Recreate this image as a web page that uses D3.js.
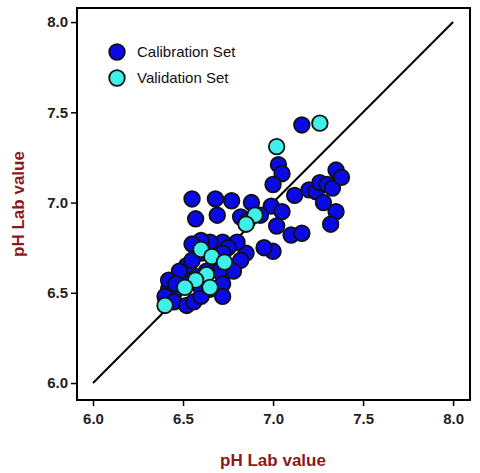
<!DOCTYPE html><html><head><script src="https://cdn.jsdelivr.net/npm/d3@7"></script>
<style>body{margin:0;background:#fff}</style></head><body><svg id="c" width="480" height="473"></svg>
<script>
const calX=[7.16,7.03,7.05,7.0,6.99,6.88,6.77,6.55,6.68,6.69,6.57,6.82,6.86,6.93,7.05,7.02,7.1,7.16,7.12,7.2,7.24,7.26,7.3,7.33,7.35,7.38,7.28,7.35,7.32,7.0,6.95,6.85,6.82,6.78,6.8,6.72,6.75,6.65,6.6,6.55,6.6,6.68,6.72,6.7,6.72,6.72,6.65,6.6,6.55,6.5,6.52,6.55,6.5,6.45,6.42,6.4,6.45,6.52,6.56,6.6,6.62,6.48,6.63,6.58,6.42,6.46];
const calY=[7.43,7.21,7.16,7.1,6.98,7.0,7.01,7.02,7.02,6.93,6.91,6.92,6.9,6.93,6.95,6.87,6.82,6.83,7.04,7.07,7.06,7.11,7.1,7.08,7.18,7.14,7.0,6.95,6.88,6.73,6.75,6.72,6.68,6.62,6.78,6.78,6.75,6.78,6.79,6.77,6.72,6.7,6.72,6.62,6.55,6.48,6.52,6.55,6.6,6.58,6.65,6.68,6.55,6.5,6.52,6.48,6.45,6.43,6.45,6.48,6.55,6.62,6.62,6.55,6.57,6.55];
const valX=[7.26,7.02,6.9,6.85,6.6,6.66,6.73,6.63,6.65,6.57,6.51,6.4];
const valY=[7.44,7.31,6.93,6.88,6.74,6.70,6.67,6.6,6.53,6.57,6.53,6.43];
const ticks=[6.0,6.5,7.0,7.5,8.0];
const svg=d3.select("#c");
const x=d3.scaleLinear().domain([5.911,8.094]).range([77,470]);
const y=d3.scaleLinear().domain([5.906,8.078]).range([400,8]);
svg.append("rect").attr("x",77).attr("y",8).attr("width",393).attr("height",392).attr("fill","none").attr("stroke","#000").attr("stroke-width",2);
const xa=svg.append("g").attr("transform","translate(0,400)").call(d3.axisBottom(x).tickValues(ticks).tickFormat(d3.format(".1f")).tickSize(6));
const ya=svg.append("g").attr("transform","translate(77,0)").call(d3.axisLeft(y).tickValues(ticks).tickFormat(d3.format(".1f")).tickSize(6));
[xa,ya].forEach(a=>{a.select(".domain").remove();a.selectAll("line").attr("stroke-width",1.5);a.selectAll("text").attr("font-family","Arial, Liberation Sans").attr("font-weight","bold").attr("font-size",15).attr("fill","#222");});
xa.selectAll("text").attr("dy","1.0em");
svg.append("line").attr("x1",x(6)).attr("y1",y(6)).attr("x2",x(8)).attr("y2",y(8)).attr("stroke","#000").attr("stroke-width",2);
function pts(X,Y,c){svg.append("g").selectAll("circle").data(X).join("circle").attr("cx",d=>x(d)).attr("cy",(d,i)=>y(Y[i])).attr("r",7.8).attr("fill",c).attr("stroke","#111").attr("stroke-width",1.8);}
pts(calX,calY,"#0a0ae6");pts(valX,valY,"#3ff0e8");
[["Calibration Set","#0a0ae6",52],["Validation Set","#3ff0e8",78]].forEach(([t,c,yy])=>{
svg.append("circle").attr("cx",117).attr("cy",yy).attr("r",7.8).attr("fill",c).attr("stroke","#111").attr("stroke-width",1.8);
svg.append("text").attr("x",137).attr("y",yy+5).text(t).attr("font-family","Arial, Liberation Sans").attr("font-size",15).attr("fill","#111");});
svg.append("text").attr("x",273).attr("y",466).attr("text-anchor","middle").text("pH Lab value").attr("font-family","Arial, Liberation Sans").attr("font-weight","bold").attr("font-size",17).attr("fill","#8b1a1a");
svg.append("text").attr("transform","translate(24,204) rotate(-90)").attr("text-anchor","middle").text("pH Lab value").attr("font-family","Arial, Liberation Sans").attr("font-weight","bold").attr("font-size",17).attr("fill","#8b1a1a");
</script></body></html>
